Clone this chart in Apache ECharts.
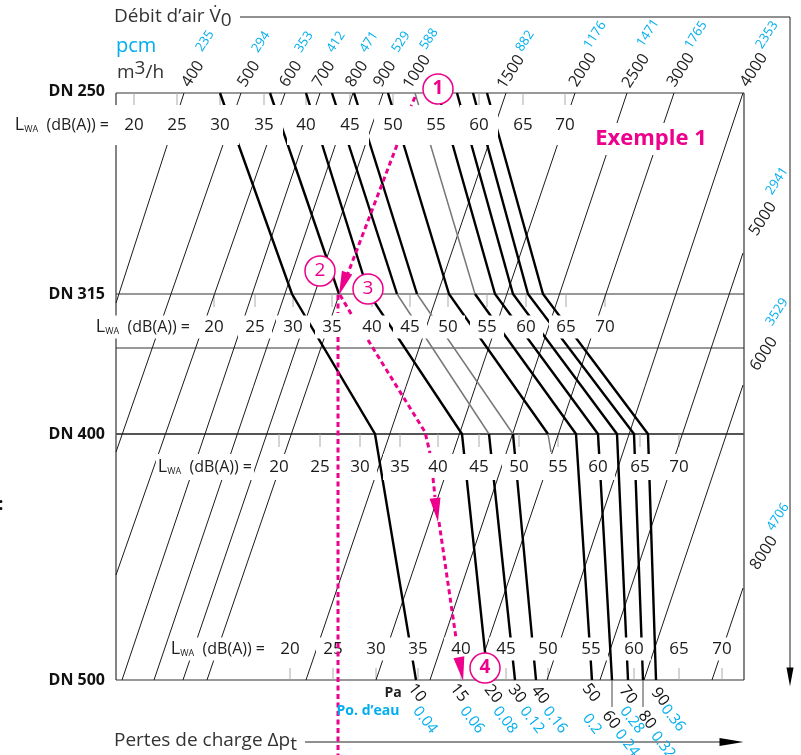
<!DOCTYPE html>
<html lang="fr">
<head>
  <meta charset="UTF-8">
  <title>Exemple 1</title>
  <script src="https://cdn.jsdelivr.net/npm/echarts@6/dist/echarts.min.js"></script>
  <style>
    html, body { margin: 0; padding: 0; background: #fff; }
    #box { width: 801px; height: 755px; }
  </style>
</head>
<body>
<div id="box"></div>
<script>
  // debit lines: label m3/h, label pcm, then both ends of each line
  var flowM3h = ['400', '500', '600', '700', '800', '900', '1500', '2000', '2500', '3000', '4000', '5000', '6000', '8000'];
  var flowPcm = ['235', '294', '353', '412', '471', '529', '882', '1176', '1471', '1765', '2353', '2941', '3529', '4706'];
  var flowFrom = [[184, 93], [241, 93], [285, 93], [320, 93], [353, 93], [383, 93], [506, 93], [575, 93], [627, 93], [674, 93], [743, 93], [743, 253], [743, 385], [743, 588]];
  var flowTo = [[116, 303], [116, 452], [116, 575], [122, 680], [154, 680], [183, 680], [306, 680], [376, 680], [430, 680], [475, 680], [547, 680], [600, 680], [644, 680], [712, 680]];
  var flow1000Part = [[339, 295], [207, 680]];

  var flowTextM3h = [[193, 74], [249, 74], [291, 74], [324, 74], [357, 74], [385, 74], [511, 72], [583, 70], [636, 71], [681, 70], [754, 70], [763, 219], [764, 354], [764, 553]];
  var flowTextPcm = [[205, 41], [261, 42], [304, 42], [336, 42], [369, 42], [401, 42], [525, 41], [595, 35], [648, 33], [696, 35], [767, 35], [777, 181], [777, 312], [778, 517]];
  var flow1000Text = [417, 72];
  var flow588Text = [429, 39];

  // pressure curves, black stretches then grey ones
  var blackCurves = [
    [[220, 93], [292, 294], [375, 434], [416, 680]],
    [[270, 93], [339, 294]],
    [[306, 93], [369, 294], [462, 434], [488, 680]],
    [[332, 93], [397, 294]],
    [[354, 93], [417, 294]],
    [[489, 434], [515, 680]],
    [[513, 434], [536, 680]],
    [[388, 93], [449, 294], [548, 434]],
    [[475, 294], [576, 434], [592, 680]],
    [[438, 93], [495, 294], [598, 434], [612, 680]],
    [[457, 93], [513, 294], [617, 434], [628, 680]],
    [[473, 93], [528, 294], [634, 434], [643, 680]],
    [[487, 93], [543, 294], [648, 434], [656, 680]]
  ];
  var greyCurves = [
    [[397, 294], [489, 434]],
    [[417, 294], [513, 434]],
    [[415, 93], [475, 294]],
    [[548, 434], [551, 452]]
  ];
  var pressureLeaders = [[[612, 680], [612, 707]], [[643, 680], [643, 707]]];

  // example path in pink
  var examplePath = [
    [[415, 97], [411, 106]],
    [[397, 145], [345, 281]],
    [[340, 295], [353, 317]],
    [[368, 340], [402, 395], [425, 432], [430, 453]],
    [[433, 478], [435, 497]],
    [[439, 522], [456, 638]],
    [[338, 295], [338, 313]],
    [[338, 337], [338, 755]]
  ];
  var exampleArrows = [[[343, 284], 160], [[436.5, 510], 187], [[461, 669], 190]];
  var exampleSteps = ['1', '2', '3', '4'];
  var stepCentres = [[438, 89], [320, 271], [368, 289], [485, 668]];

  // sound level rows
  var lwaLevels = ['20', '25', '30', '35', '40', '45', '50', '55', '60', '65', '70'];
  var rowDn250 = [134, 177, 220, 264, 306, 350, 393, 436, 479, 523, 565];
  var rowDn315 = [214, 255, 293, 332, 372, 410, 448, 487, 526, 566, 605];
  var rowDn400 = [279, 320, 360, 400, 438, 479, 519, 558, 598, 640, 679];
  var rowDn500 = [290, 333, 376, 418, 461, 506, 548, 591, 634, 679, 722];

  var dnNames = ['DN 250', 'DN 315', 'DN 400', 'DN 500'];
  var dnLevels = [91, 294, 434, 680];

  var pressurePa = ['10', '15', '20', '30', '40', '50', '60', '70', '80', '90'];
  var pressurePaText = [[417, 693], [459, 693], [493, 694], [517, 694], [540, 695], [591, 693], [611, 720], [628, 695], [647, 720], [660, 697]];
  var pressureWater = ['0.04', '0.06', '0.08', '0.12', '0.16', '0.2', '0.24', '0.28', '0.32', '0.36'];
  var pressureWaterText = [[425, 720], [472, 720], [505, 720], [532, 720], [555, 720], [592, 724], [627, 743], [632, 720], [663, 745], [673, 718]];

  var frameLines = [
    [[116, 93], [744, 93]], [[116, 294], [744, 294]], [[116, 348], [744, 348]], [[116, 680], [744, 680]],
    [[116, 93], [116, 680]], [[744, 93], [744, 680]]
  ];
  var flowArrowLine = [[240, 17], [790, 17], [790, 670]];
  var pressureArrowLine = [[305, 742], [722, 742]];

  var PINK = '#ec008c';
  var BLUE = '#00aeef';
  var FONT = '"Open Sans"';

  function lineSeries(points, color, width, z, dash) {
    return {
      type: 'line', data: points, z: z, silent: true, animation: false, symbol: 'none', clip: false,
      lineStyle: { color: color, width: width, type: dash || 'solid', cap: 'butt', join: 'miter' }
    };
  }

  // invisible points that only carry a text
  function textSeries(items, style, z) {
    return {
      type: 'scatter', symbolSize: 0, z: z, silent: true, animation: false, clip: false,
      itemStyle: { opacity: 1 },
      data: items.map(function (it) {
        return { value: it.at, label: Object.assign({ formatter: it.text }, it.style || {}) };
      }),
      label: Object.assign({ show: true, position: 'inside', fontFamily: FONT, color: '#1a1a1a' }, style)
    };
  }

  function rowSeries(xs, y, maskH, maskW, ticks) {
    var series = [];
    xs.forEach(function (x) {
      series.push(lineSeries([[x, ticks[0]], [x, ticks[1]]], '#aaaaaa', 1, 2));
    });
    var items = xs.map(function (x, i) { return { at: [x, y], text: lwaLevels[i] }; });
    series.push(textSeries(items, {
      fontSize: 17, backgroundColor: '#fff', lineHeight: 20, width: maskW, align: 'center',
      padding: [(maskH - 20) / 2, 0]
    }, 5));
    return series;
  }

  function lwaLabel(x, y, maskH) {
    return textSeries([{ at: [x, y], text: '{l|L}{s|WA}{t|  (dB(A)) =}' }], {
      align: 'right', backgroundColor: '#fff', padding: [(maskH - 20) / 2, 2],
      rich: {
        l: { fontFamily: FONT, fontSize: 18, color: '#222', lineHeight: 20 },
        s: { fontFamily: FONT, fontSize: 9, color: '#222', lineHeight: 20, padding: [9, 0, 0, 0] },
        t: { fontFamily: FONT, fontSize: 16, color: '#222', lineHeight: 20 }
      }
    }, 5);
  }

  var series = [];
  frameLines.forEach(function (f) { series.push(lineSeries(f, '#333', 1.2, 2)); });
  series.push(lineSeries([[116, 434], [744, 434]], '#555', 2, 2));
  flowFrom.forEach(function (p, i) { series.push(lineSeries([p, flowTo[i]], '#1a1a1a', 1, 3)); });
  series.push(lineSeries(flow1000Part, '#1a1a1a', 1, 3));
  pressureLeaders.forEach(function (p) { series.push(lineSeries(p, '#444', 1, 3)); });
  greyCurves.forEach(function (p) { series.push(lineSeries(p, '#777', 1.5, 3)); });
  blackCurves.forEach(function (p) { series.push(lineSeries(p, '#000', 2.4, 3)); });
  series.push(lineSeries(flowArrowLine, '#222', 1, 3));
  series.push(lineSeries(pressureArrowLine, '#222', 1.2, 3));

  series = series.concat(rowSeries(rowDn250, 125, 40, 38, [93, 105]));
  series = series.concat(rowSeries(rowDn315, 327, 23, 34, [294, 307]));
  series = series.concat(rowSeries(rowDn400, 467, 26, 34, [434, 447]));
  series = series.concat(rowSeries(rowDn500, 649, 23, 34, [668, 680]));
  series.push(lwaLabel(111, 125, 30));
  series.push(lwaLabel(192, 327, 23));
  series.push(lwaLabel(254, 467, 26));
  series.push(lwaLabel(267, 649, 23));

  // the mask of the upper rows hides the path, the lower part crosses the labels
  examplePath.forEach(function (p) { series.push(lineSeries(p, PINK, 3, 6, [5, 3.5])); });
  series.push({
    type: 'scatter', symbol: 'triangle', symbolSize: [11, 24], z: 6, silent: true, animation: false,
    data: exampleArrows.map(function (a) { return { value: a[0], symbolRotate: a[1] }; }),
    itemStyle: { color: PINK, opacity: 1 }
  });
  series.push({
    type: 'scatter', symbol: 'triangle', z: 3, silent: true, animation: false,
    data: [
      { value: [790, 677], symbolRotate: 180, symbolSize: [7, 19] },
      { value: [731.5, 742], symbolRotate: -90, symbolSize: [8, 24] }
    ],
    itemStyle: { color: '#000', opacity: 1 }
  });
  series.push({
    type: 'scatter', symbol: 'circle', symbolSize: 30, z: 7, silent: true, animation: false,
    data: stepCentres.map(function (c, i) {
      return { value: c, label: { formatter: exampleSteps[i], fontWeight: (i === 0 || i === 3) ? 'bold' : 'normal' } };
    }),
    itemStyle: { color: '#fff', borderColor: PINK, borderWidth: 1.5, opacity: 1 },
    label: { show: true, position: 'inside', fontFamily: FONT, fontSize: 19, color: PINK }
  });

  series.push(textSeries(flowM3h.map(function (t, i) { return { at: flowTextM3h[i], text: t }; })
    .concat([{ at: flow1000Text, text: '1000' }]), { fontSize: 16, rotate: 57, color: '#222' }, 8));
  series.push(textSeries(flowPcm.map(function (t, i) { return { at: flowTextPcm[i], text: t }; })
    .concat([{ at: flow588Text, text: '588' }]), { fontSize: 13, rotate: 57, color: BLUE }, 8));
  series.push(textSeries(pressurePa.map(function (t, i) { return { at: pressurePaText[i], text: t }; }),
    { fontSize: 16, rotate: -52, color: '#111' }, 8));
  series.push(textSeries(pressureWater.map(function (t, i) { return { at: pressureWaterText[i], text: t }; }),
    { fontSize: 15, rotate: -52, color: BLUE }, 8));

  series.push(textSeries(dnNames.map(function (t, i) { return { at: [105, dnLevels[i]], text: t }; }),
    { fontSize: 16, fontWeight: 'bold', align: 'right', color: '#111' }, 8));
  series.push(textSeries([{ at: [651, 139], text: 'Exemple 1' }], {
    fontSize: 22, fontWeight: 'bold', color: PINK, backgroundColor: '#fff', padding: [5, 3]
  }, 5));
  series.push(textSeries([{ at: [393, 693], text: 'Pa' }], { fontSize: 14, fontWeight: 'bold', color: '#222' }, 8));
  series.push(textSeries([{ at: [368, 711], text: 'Po. d\u2019eau' }], { fontSize: 14, fontWeight: 'bold', color: BLUE }, 8));
  series.push(textSeries([{ at: [1, 505], text: ':' }], { fontSize: 17, fontWeight: 'bold', color: '#111' }, 8));

  var titleRich = {
    a: { fontFamily: FONT, fontSize: 19, color: '#333', lineHeight: 26 },
    s: { fontFamily: FONT, fontSize: 19, color: '#333', lineHeight: 26, padding: [8, 0, 0, 0] },
    u: { fontFamily: FONT, fontSize: 19, color: '#333', lineHeight: 26, padding: [0, 0, 8, 0] }
  };
  series.push(textSeries([
    { at: [114, 17], text: '{a|D\u00e9bit d\u2019air V\u0307}{s|0}' },
    { at: [117, 73], text: '{a|m}{u|3}{a|/h}' },
    { at: [114, 741], text: '{a|Pertes de charge \u0394p}{s|t}' }
  ], { align: 'left', rich: titleRich }, 8));
  series.push(textSeries([{ at: [116, 46], text: 'pcm' }], { align: 'left', fontSize: 20, color: BLUE }, 8));

  var my_box = echarts.init(document.getElementById('box'));
  my_box.setOption({
    animation: false,
    grid: { left: 0, right: 0, top: 0, bottom: 0 },
    xAxis: { type: 'value', min: 0, max: 801, show: false },
    yAxis: { type: 'value', min: 0, max: 755, inverse: true, show: false },
    series: series
  });
</script>
</body>
</html>
